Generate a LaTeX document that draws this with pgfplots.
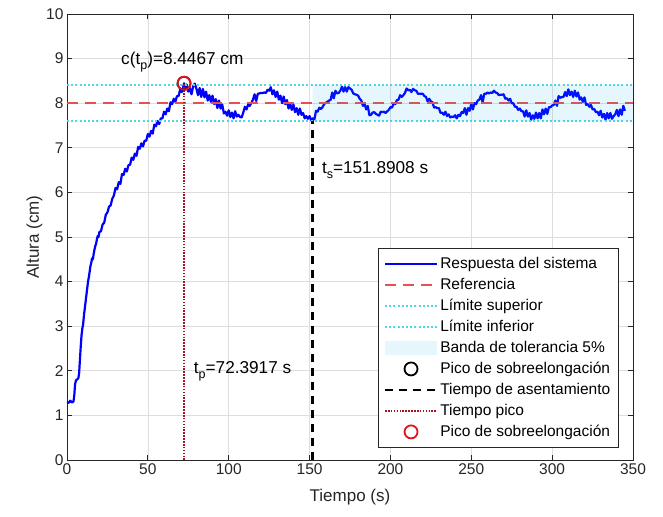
\documentclass[border=0pt]{standalone}
\usepackage{fontspec}
\setmainfont{Liberation Sans}
\usepackage{pgfplots}
\usepackage{pgfplotstable}
\pgfplotsset{compat=1.18}
\definecolor{axgray}{RGB}{38,38,38}
\definecolor{refred}{RGB}{232,80,80}
\definecolor{limcyan}{RGB}{80,215,225}
\definecolor{tpred}{RGB}{165,20,35}
\definecolor{pkred}{RGB}{225,20,30}
\newcommand{\sub}[1]{\raisebox{-0.55ex}{\fontsize{12.5}{13}\selectfont #1}}
\pgfplotsset{
  longleg/.style={legend image code/.code={\draw[mark repeat=2,mark phase=2,##1] plot coordinates {(0pt,0pt)(26pt,0pt)(52pt,0pt)};}},
  bandleg/.style={legend image code/.code={\fill[##1] (0pt,-7pt) rectangle (52pt,7pt);}},
}

\pgfplotstableread{
t h
0 1.30
1 1.28
2 1.33
3 1.29
4 1.31
4.5 1.45
5 1.70
5.5 1.78
6 1.80
7 1.83
7.5 1.95
8 2.25
8.5 2.55
9 2.80
9.5 2.95
10 3.05
10.5 3.25
11 3.40
11.5 3.55
12 3.70
12.5 3.85
13 4.00
13.5 4.10
14 4.22
14.5 4.35
15 4.42
15.5 4.52
16 4.50
16.5 4.62
17 4.72
17.5 4.80
18 4.85
18.5 4.95
19 5.02
19.5 5.00
20 5.11
21 5.13
22 5.28
23 5.32
24 5.50
25 5.55
26 5.68
27 5.71
28 5.86
29 5.93
30 6.10
31 6.07
32 6.23
33 6.19
34 6.41
35 6.39
36 6.53
37 6.47
38 6.61
39 6.62
40 6.78
41 6.73
42 6.87
43 6.82
44 7.02
45 6.98
46 7.10
47 7.03
48 7.16
49 7.16
50 7.31
51 7.25
52 7.38
53 7.32
54 7.52
55 7.48
56 7.60
57 7.53
58 7.66
59 7.66
60 7.81
61 7.75
62 7.88
63 7.82
64 8.02
65 7.98
66 8.10
67 8.03
68 8.16
69 8.16
70 8.31
71 8.25
72 8.38
72.3917 8.4467
73 8.32
74 8.42
75 8.26
76 8.34
77 8.20
78 8.38
79 8.44
80 8.33
81 8.18
82 8.34
83 8.14
84 8.32
85 8.13
86 8.26
87 8.06
88 8.18
89 8.03
90 8.17
91 7.98
92 8.09
93 7.89
94 8.06
95 7.88
96 7.97
97 7.77
98 7.81
99 7.72
100 7.84
101 7.69
102 7.79
103 7.66
104 7.82
105 7.70
106 7.74
107 7.69
108 7.68
109 7.79
110 7.92
111 7.86
112 7.97
113 7.94
114 8.01
115 8.08
116 8.20
117 8.05
118 8.21
119 8.22
120 8.23
121 8.23
122 8.24
123 8.23
124 8.30
125 8.28
126 8.36
127 8.20
128 8.29
129 8.14
130 8.26
131 8.08
132 8.17
133 8.00
134 8.15
135 7.98
136 8.07
137 7.88
138 7.99
139 7.85
140 7.97
141 7.80
142 7.89
143 7.74
144 7.88
145 7.74
146 7.78
147 7.66
148 7.71
149 7.65
150 7.71
151 7.62
151.8908 7.60
152 7.66
153 7.64
154 7.83
155 7.81
156 7.90
157 7.87
158 7.91
159 7.98
160 8.01
161 8.03
162 8.06
163 8.07
164 8.24
165 8.11
166 8.28
167 8.22
168 8.23
169 8.28
170 8.37
171 8.26
172 8.36
173 8.26
174 8.36
175 8.33
176 8.30
177 8.22
178 8.20
179 8.19
180 8.17
181 8.10
182 8.06
183 7.94
184 7.99
185 7.86
186 7.94
187 7.73
188 7.74
189 7.79
190 7.80
191 7.76
192 7.74
193 7.72
194 7.81
195 7.80
196 7.81
197 7.78
198 7.82
199 7.85
200 7.91
201 7.90
202 8.00
203 7.98
204 8.07
205 8.08
206 8.18
207 8.14
208 8.18
209 8.23
210 8.33
211 8.29
212 8.30
213 8.25
214 8.32
215 8.29
216 8.28
217 8.21
218 8.21
219 8.21
220 8.21
221 8.16
222 8.14
223 8.04
224 8.10
225 8.04
226 8.02
227 7.90
228 7.91
229 7.89
230 7.89
231 7.78
232 7.79
233 7.74
234 7.81
235 7.71
236 7.75
237 7.68
238 7.70
239 7.69
240 7.73
241 7.66
242 7.74
243 7.71
244 7.80
245 7.78
246 7.89
247 7.74
248 7.89
249 7.83
250 7.99
251 7.86
252 8.00
253 7.98
254 8.06
255 8.08
256 8.18
257 8.02
258 8.21
259 8.21
260 8.24
261 8.22
262 8.24
263 8.23
264 8.28
265 8.24
266 8.23
267 8.18
268 8.19
269 8.19
270 8.20
271 8.10
272 8.11
273 8.06
274 8.10
275 8.00
276 8.00
277 7.92
278 7.92
279 7.85
280 7.88
281 7.82
282 7.82
283 7.70
284 7.84
285 7.70
286 7.78
287 7.63
288 7.73
289 7.65
290 7.79
291 7.66
292 7.78
293 7.66
294 7.86
295 7.75
296 7.88
297 7.76
298 7.91
299 7.91
300 7.95
301 7.96
302 8.06
303 7.94
304 8.16
305 8.12
306 8.14
307 8.14
308 8.25
309 8.16
310 8.31
311 8.18
312 8.26
313 8.14
314 8.28
315 8.15
316 8.24
317 8.08
318 8.13
319 8.03
320 8.13
321 7.96
322 7.98
323 7.92
324 7.96
325 7.86
326 7.87
327 7.80
328 7.81
329 7.73
330 7.83
331 7.68
332 7.76
333 7.63
334 7.78
335 7.66
336 7.78
337 7.65
338 7.71
339 7.75
340 7.85
341 7.71
342 7.86
343 7.74
344 7.94
345 7.83
}\resp

\begin{document}
\begin{tikzpicture}
\path[use as bounding box] (-67pt,-56pt) rectangle (596pt,460pt);
\begin{axis}[
  scale only axis, width=566pt, height=446pt,
  xmin=0, xmax=350, ymin=0, ymax=10,
  xtick={0,50,...,350}, ytick={0,1,...,10},
  grid=major, major grid style={draw=black!13, line width=0.6pt},
  axis line style={draw=axgray, line width=0.8pt},
  tick style={draw=axgray, line width=0.8pt},
  tick align=inside, major tick length=5pt,
  ticklabel style={font=\fontsize{15.5}{18}\selectfont, text=axgray},
  /pgf/number format/assume math mode=true,
  xlabel={Tiempo (s)}, ylabel={Altura (cm)},
  label style={font=\fontsize{17}{20}\selectfont, text=axgray},
  xlabel style={yshift=-8pt},
  ylabel style={yshift=-3pt},
  legend style={at={(0.9735,0.029)}, anchor=south east,
    font=\fontsize{15.5}{18}\selectfont, draw=none, fill=white, name=leg,
    inner xsep=5.5pt, inner ysep=6.5pt, row sep=4.2pt},
  legend cell align=left,
  longleg,
]
\addplot[draw=blue, line width=2.2pt, line join=round] table[x=t,y=h] {\resp};
\addlegendentry{Respuesta del sistema}
\addplot[draw=refred, line width=2pt, dash pattern=on 11pt off 7pt] coordinates {(0,8) (350,8)};
\addlegendentry{Referencia}
\addplot[draw=limcyan, line width=2pt, dash pattern=on 2pt off 2.2pt] coordinates {(0,8.4) (350,8.4)};
\addlegendentry{Límite superior}
\addplot[draw=limcyan, line width=2pt, dash pattern=on 2pt off 2.2pt] coordinates {(0,7.6) (350,7.6)};
\addlegendentry{Límite inferior}
\addplot[draw=none, fill=cyan, fill opacity=0.1, bandleg]
  coordinates {(151.8908,7.6) (350,7.6) (350,8.4) (151.8908,8.4) (151.8908,7.6)};
\addlegendentry{Banda de tolerancia 5\%}
\addplot[only marks, mark=o, mark size=6.5pt, mark options={draw=black, line width=1.8pt}] coordinates {(72.3917,8.4467)};
\addlegendentry{Pico de sobreelongación}
\addplot[draw=black, line width=2.4pt, dash pattern=on 8pt off 6pt] coordinates {(151.8908,0) (151.8908,7.6)};
\addlegendentry{Tiempo de asentamiento}
\addplot[draw=tpred, line width=2.5pt, dash pattern=on 1.6pt off 1.3pt] coordinates {(72.3917,0) (72.3917,8.4467)};
\addlegendentry{Tiempo pico}
\addplot[only marks, mark=o, mark size=6.5pt, mark options={draw=pkred, line width=1.8pt}] coordinates {(72.3917,8.4467)};
\addlegendentry{Pico de sobreelongación}
\node[font=\fontsize{17.2}{20}\selectfont, text=black, anchor=center] at (axis cs:71.3,8.93) {c(t\sub{p})=8.4467 cm};
\node[font=\fontsize{17.2}{20}\selectfont, text=black, anchor=west] at (axis cs:76.3,2.0) {t\sub{p}=72.3917 s};
\node[font=\fontsize{17.2}{20}\selectfont, text=black, anchor=west] at (axis cs:155.5,6.5) {t\sub{s}=151.8908 s};
\end{axis}
\draw[axgray, line width=0.8pt] (leg.south west) rectangle (leg.north east);
\end{tikzpicture}
\end{document}
